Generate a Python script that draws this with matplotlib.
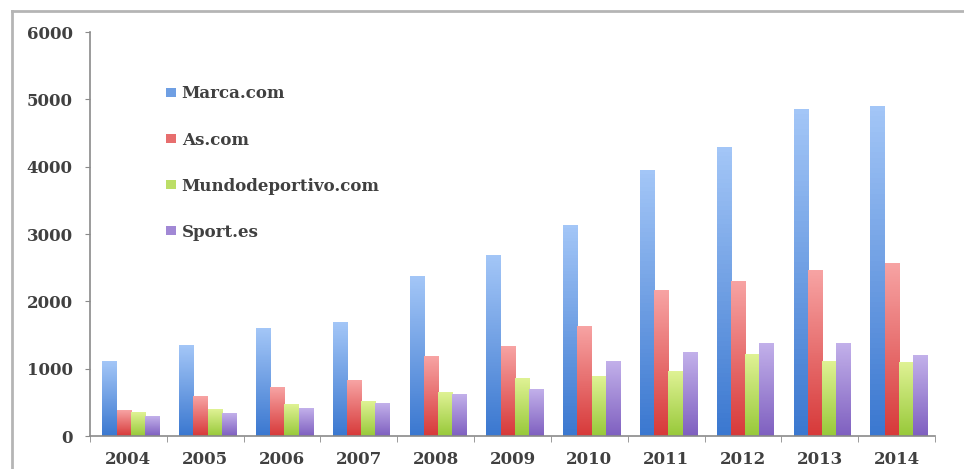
import numpy as np
import matplotlib
matplotlib.use("Agg")
import matplotlib.pyplot as plt
from matplotlib.colors import LinearSegmentedColormap, to_rgb
from matplotlib.lines import Line2D
from matplotlib.patches import Patch

# Visitas por año a los diarios deportivos digitales
years = ["2004", "2005", "2006", "2007", "2008", "2009",
         "2010", "2011", "2012", "2013", "2014"]
marca = [1110, 1350, 1590, 1690, 2375, 2680, 3120, 3950, 4290, 4855, 4900]
as_com = [385, 580, 725, 830, 1185, 1335, 1630, 2165, 2300, 2465, 2555]
mundodeportivo = [355, 400, 475, 505, 650, 860, 890, 965, 1215, 1110, 1085]
sport = [295, 340, 415, 490, 620, 695, 1100, 1245, 1380, 1380, 1200]

series = [
    ("Marca.com", marca, "#a3c6f7", "#3b78d0"),
    ("As.com", as_com, "#f7a3a3", "#d73a3a"),
    ("Mundodeportivo.com", mundodeportivo, "#dff294", "#98c93a"),
    ("Sport.es", sport, "#c2b0ea", "#7f60c0"),
]

W, H = 964, 469
fig = plt.figure(figsize=(W / 100, H / 100), dpi=100)
ax = fig.add_axes([90 / W, 1 - 436 / H, (935 - 90) / W, (436 - 32) / H])

txt_color = "#404040"
serif = "DejaVu Serif"

x = np.arange(len(years))
bw = 0.185
grad = np.linspace(0, 1, 64).reshape(-1, 1)
handles = []
for i, (name, vals, top, bottom) in enumerate(series):
    cmap = LinearSegmentedColormap.from_list(name, [bottom, top])
    offs = (i - 1.5) * bw + 0.03
    bars = ax.bar(x + offs, vals, width=bw, color=bottom, linewidth=0)
    # degradado vertical dentro de cada barra
    for b in bars:
        x0, h = b.get_x(), b.get_height()
        ax.imshow(grad, extent=[x0, x0 + bw, 0, h], origin="lower",
                  cmap=cmap, aspect="auto", zorder=2)
    mid = (np.array(to_rgb(top)) + np.array(to_rgb(bottom))) / 2
    handles.append(Patch(facecolor=mid, label=name))

ax.set_xlim(-0.5, len(years) - 0.5)
ax.set_ylim(0, 6000)
ax.set_yticks(range(0, 6001, 1000))
ax.set_xticks(x)
ax.set_xticklabels(years)
ax.set_xticks(np.arange(-0.5, len(years), 1), minor=True)

for s in ("top", "right"):
    ax.spines[s].set_visible(False)
for s in ("left", "bottom"):
    ax.spines[s].set_color("#8a8a8a")
    ax.spines[s].set_linewidth(1.2)

ax.tick_params(axis="y", length=3.5, color="#8a8a8a", pad=9, labelsize=12)
ax.tick_params(axis="x", which="major", length=0, pad=11, labelsize=12)
ax.tick_params(axis="x", which="minor", length=4, color="#8a8a8a")
for lab in ax.get_xticklabels() + ax.get_yticklabels():
    lab.set_fontfamily(serif)
    lab.set_fontweight("bold")
    lab.set_color(txt_color)

leg = ax.legend(handles=handles, loc="upper left", bbox_to_anchor=(0.072, 0.905),
                frameon=False, handlelength=0.6, handleheight=0.45,
                handletextpad=0.35, labelspacing=1.75,
                prop=dict(family=serif, weight="bold", size=12))
for t in leg.get_texts():
    t.set_color(txt_color)

# marco gris del gráfico
fig.add_artist(Line2D([12 / W, 12 / W], [0, 1 - 11 / H], color="#b5b5b5", lw=2))
fig.add_artist(Line2D([12 / W, 1], [1 - 11 / H, 1 - 11 / H], color="#b5b5b5", lw=2))

fig.savefig("out.png", dpi=100)
